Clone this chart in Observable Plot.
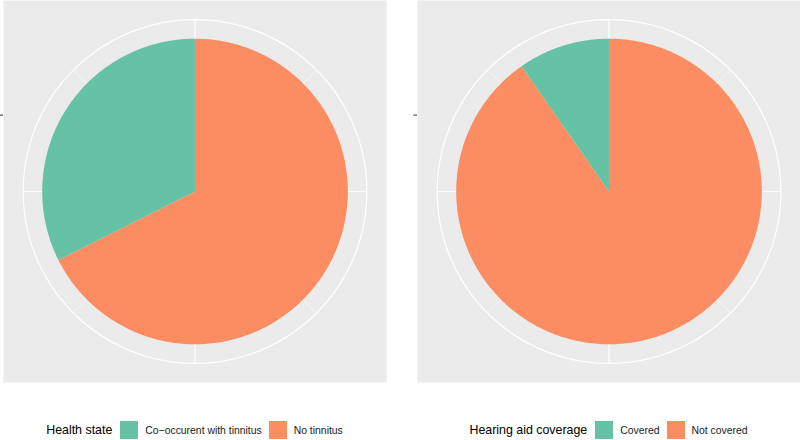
<!DOCTYPE html>
<html>
<head>
<meta charset="utf-8">
<script src="https://cdn.jsdelivr.net/npm/d3@7"></script>
<script src="https://cdn.jsdelivr.net/npm/@observablehq/plot@0.6"></script>
<style>
  html, body { margin: 0; padding: 0; background: #ffffff; }
  body { font-family: "Liberation Sans", Arial, Helvetica, sans-serif; }
  #wrap { display: flex; width: 800px; height: 440px; }
  .half { position: relative; width: 400px; height: 440px; }
  .half svg { position: absolute; left: 0; top: 0; overflow: visible; }
  .legend { position: absolute; top: 421px; height: 18px; width: 383px;
            display: flex; align-items: center; justify-content: center; white-space: nowrap; }
  .legend .title { font-size: 12.4px; color: #000; margin-right: 8px; }
  .legend .sw { width: 18px; height: 18px; flex: none; margin-right: 7px; }
  .legend .lab { font-size: 10.4px; color: #1a1a1a; margin-right: 7px; }
  .legend .lab:last-child { margin-right: 0; }
</style>
</head>
<body>
<div id="wrap">
  <div class="half" id="left"></div>
  <div class="half" id="right"></div>
</div>
<script>
// ---- data ----
const healthStates = ["Co\u2212occurent with tinnitus", "No tinnitus"];
const healthShares = [32.4, 67.6];
const coverageStates = ["Covered", "Not covered"];
const coverageShares = [9.7, 90.3];
const sliceColors = ["#66C2A5", "#FC8D62"];
const legendTitles = ["Health state", "Hearing aid coverage"];
const thetaMajorBreaks = [0, 25, 50, 75];
const thetaMinorBreaks = [12.5, 37.5, 62.5, 87.5];
const rAxisBreaks = [0.2];

// ---- geometry helpers (ggplot coord_polar: start at 12 o'clock, clockwise) ----
const PIE_R = 0.4, GRID_R = 0.45;
function polar(theta, r) { return {x: r * Math.sin(theta), y: r * Math.cos(theta)}; }

function slicePoints(cats, vals) {
  const total = d3.sum(vals);
  // ggplot stacking: first level on top -> stack from the last level upward
  const pts = [];
  let cum = 0;
  for (let i = cats.length - 1; i >= 0; i--) {
    const a0 = cum / total * 2 * Math.PI;
    cum += vals[i];
    const a1 = cum / total * 2 * Math.PI;
    const n = Math.max(2, Math.ceil((a1 - a0) / (Math.PI / 180)));
    pts.push({key: cats[i], x: 0, y: 0});
    for (let k = 0; k <= n; k++) {
      const p = polar(a0 + (a1 - a0) * k / n, PIE_R);
      pts.push({key: cats[i], x: p.x, y: p.y});
    }
    pts.push({key: cats[i], x: 0, y: 0});
  }
  return pts;
}

function gridLinks(breaks, total) {
  return breaks.map(b => {
    const p = polar(b / total * 2 * Math.PI, GRID_R);
    return {x1: 0, y1: 0, x2: p.x, y2: p.y};
  });
}

function gridCircle() {
  const pts = [];
  for (let k = 0; k <= 100; k++) pts.push(polar(k / 100 * 2 * Math.PI, GRID_R));
  return pts;
}

function pie(cats, vals, marginLeft, marginRight) {
  const W = 400, H = 382;
  const pw = W - marginLeft - marginRight;
  const xr = pw / H / 2;
  const total = d3.sum(vals);
  return Plot.plot({
    width: W, height: H,
    marginLeft, marginRight, marginTop: 0, marginBottom: 0,
    style: {background: "transparent", overflow: "visible"},
    x: {domain: [-xr, xr], axis: null},
    y: {domain: [-0.5, 0.5]},
    color: {domain: cats, range: sliceColors},
    marks: [
      Plot.frame({fill: "#EBEBEB", stroke: "none"}),
      Plot.link(gridLinks(thetaMajorBreaks, 100), {x1: "x1", y1: "y1", x2: "x2", y2: "y2", stroke: "#ffffff", strokeWidth: 1.2}),
      Plot.link(gridLinks(thetaMinorBreaks, 100), {x1: "x1", y1: "y1", x2: "x2", y2: "y2", stroke: "#ffffff", strokeWidth: 0.6}),
      Plot.line(gridCircle(), {x: "x", y: "y", stroke: "#ffffff", strokeWidth: 1.2}),
      Plot.line(slicePoints(cats, vals), {x: "x", y: "y", z: "key", fill: "key", stroke: "none"}),
      Plot.axisY({ticks: rAxisBreaks, tickFormat: () => "", tickSize: 3.7, stroke: "#333333", label: null})
    ]
  });
}

function legend(title, cats, offsetLeft) {
  const div = document.createElement("div");
  div.className = "legend";
  div.style.left = offsetLeft + "px";
  const t = document.createElement("span");
  t.className = "title"; t.textContent = title;
  div.appendChild(t);
  cats.forEach((c, i) => {
    const s = document.createElement("span");
    s.className = "sw"; s.style.background = sliceColors[i];
    div.appendChild(s);
    const l = document.createElement("span");
    l.className = "lab"; l.textContent = c;
    div.appendChild(l);
  });
  return div;
}

const left = document.getElementById("left");
left.appendChild(pie(healthStates, healthShares, 3, 14));
left.appendChild(legend(legendTitles[0], healthStates, 3));

const right = document.getElementById("right");
right.appendChild(pie(coverageStates, coverageShares, 17, 0));
right.appendChild(legend(legendTitles[1], coverageStates, 17));
</script>
</body>
</html>
